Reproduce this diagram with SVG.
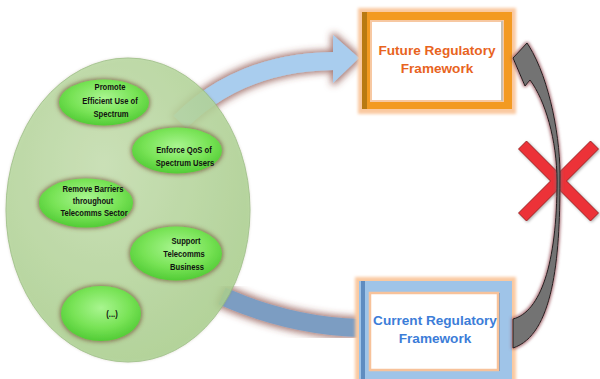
<svg xmlns="http://www.w3.org/2000/svg" width="600" height="379" viewBox="0 0 600 379">
  <defs>
    <style>
      .goal { font-family: "Liberation Sans", Arial, sans-serif; font-weight: bold; font-size: 9.3px; fill: #111; text-anchor: middle; }
      .title { font-family: "Liberation Sans", Arial, sans-serif; font-weight: bold; font-size: 13.6px; text-anchor: middle; }
      .pill { fill: url(#pillFill); filter: url(#brownGlow); }
    </style>
    <radialGradient id="pillFill" cx="50%" cy="40%" r="60%">
      <stop offset="0" stop-color="#A9F590"/>
      <stop offset="0.6" stop-color="#78E356"/>
      <stop offset="1" stop-color="#52CC36"/>
    </radialGradient>
    <radialGradient id="bigFill" cx="40%" cy="35%" r="70%">
      <stop offset="0" stop-color="#C8E4B4"/>
      <stop offset="1" stop-color="#ABD390"/>
    </radialGradient>
    <filter id="brownGlow" x="-30%" y="-30%" width="160%" height="160%">
      <feMorphology in="SourceAlpha" operator="dilate" radius="1.2" result="grow"/>
      <feGaussianBlur in="grow" stdDeviation="2.2" result="blur"/>
      <feFlood flood-color="#6E4A30" flood-opacity="0.7"/>
      <feComposite in2="blur" operator="in" result="glow"/>
      <feMerge><feMergeNode in="glow"/><feMergeNode in="SourceGraphic"/></feMerge>
    </filter>
    <filter id="redGlow" x="-30%" y="-30%" width="160%" height="160%">
      <feMorphology in="SourceAlpha" operator="dilate" radius="2" result="grow"/>
      <feGaussianBlur in="grow" stdDeviation="3.5" result="blur"/>
      <feFlood flood-color="#7E3C34" flood-opacity="0.7"/>
      <feComposite in2="blur" operator="in" result="glow"/>
      <feMerge><feMergeNode in="glow"/><feMergeNode in="SourceGraphic"/></feMerge>
    </filter>
    <filter id="pinkGlow" x="-30%" y="-10%" width="160%" height="120%">
      <feMorphology in="SourceAlpha" operator="dilate" radius="1.2" result="grow"/>
      <feGaussianBlur in="grow" stdDeviation="1.5" result="blur"/>
      <feFlood flood-color="#9C5A62" flood-opacity="0.8"/>
      <feComposite in2="blur" operator="in" result="glow"/>
      <feMerge><feMergeNode in="glow"/><feMergeNode in="SourceGraphic"/></feMerge>
    </filter>
    <filter id="soft" x="-10%" y="-10%" width="120%" height="120%">
      <feGaussianBlur stdDeviation="1.5"/>
    </filter>
    <filter id="xShadow" x="-20%" y="-20%" width="140%" height="140%">
      <feGaussianBlur in="SourceAlpha" stdDeviation="1.5" result="b"/>
      <feOffset in="b" dx="1" dy="1" result="o"/>
      <feFlood flood-color="#000" flood-opacity="0.35"/>
      <feComposite in2="o" operator="in" result="s"/>
      <feMerge><feMergeNode in="s"/><feMergeNode in="SourceGraphic"/></feMerge>
    </filter>
  </defs>

  <rect width="600" height="379" fill="#FFFFFF"/>

  <!-- connectors -->
  <g id="connectors">
    <!-- goals towards the future framework -->
    <g id="toFuture" filter="url(#redGlow)">
      <path d="M180,122 Q240,62 334,61" fill="none" stroke="#A9CDEE" stroke-width="18"/>
      <polygon points="333,35 359,58 333,83" fill="#A9CDEE"/>
    </g>
    <!-- current framework link -->
    <g id="fromCurrent" filter="url(#redGlow)">
      <path d="M222,296 Q290,326 360,328" fill="none" stroke="#7C9DC2" stroke-width="18"/>
    </g>
  </g>

  <!-- goals container -->
  <g id="goals">
    <ellipse cx="128" cy="210" rx="122" ry="152" fill="#8A7A5A" opacity="0.35" filter="url(#soft)"/>
    <ellipse cx="128" cy="210" rx="122" ry="152" fill="url(#bigFill)" opacity="0.82" stroke="#98BE80" stroke-width="1"/>
  </g>

  <g id="goal-promote">
    <ellipse class="pill" cx="104" cy="102.5" rx="45" ry="23"/>
    <text class="goal" transform="translate(110 89.5) scale(0.82 1)">Promote</text>
    <text class="goal" transform="translate(110 103.5) scale(0.82 1)">Efficient Use of</text>
    <text class="goal" transform="translate(111 117) scale(0.82 1)">Spectrum</text>
  </g>
  <g id="goal-enforce">
    <ellipse class="pill" cx="177" cy="150.5" rx="45" ry="23"/>
    <text class="goal" transform="translate(184 153) scale(0.82 1)">Enforce QoS of</text>
    <text class="goal" transform="translate(185 166) scale(0.82 1)">Spectrum Users</text>
  </g>
  <g id="goal-remove">
    <ellipse class="pill" cx="86" cy="203" rx="47" ry="24.5"/>
    <text class="goal" transform="translate(93 191.5) scale(0.82 1)">Remove Barriers</text>
    <text class="goal" transform="translate(93 204) scale(0.82 1)">throughout</text>
    <text class="goal" transform="translate(94 216) scale(0.82 1)">Telecomms Sector</text>
  </g>
  <g id="goal-support">
    <ellipse class="pill" cx="176" cy="253.5" rx="46" ry="27"/>
    <text class="goal" transform="translate(186 243.5) scale(0.82 1)">Support</text>
    <text class="goal" transform="translate(184 256.5) scale(0.82 1)">Telecomms</text>
    <text class="goal" transform="translate(187 270) scale(0.82 1)">Business</text>
  </g>
  <g id="goal-more">
    <ellipse class="pill" cx="101" cy="313.5" rx="40" ry="27.5"/>
    <text class="goal" transform="translate(112 317) scale(0.82 1)">(...)</text>
  </g>

  <!-- future framework -->
  <g id="future">
    <rect x="358" y="8" width="158" height="106" fill="#FAC9A0" filter="url(#soft)"/>
    <rect x="362" y="12" width="150" height="97" fill="#F39A21"/>
    <rect x="362" y="12" width="5" height="97" fill="#B97A12"/>
    <rect x="371" y="21" width="132" height="80" fill="#FFFFFF" stroke="#F7C8A2" stroke-width="2"/>
    <rect x="501" y="21" width="2" height="80" fill="#C8C0B0"/>
    <text class="title" x="437" y="55" fill="#E8641E">Future Regulatory</text>
    <text class="title" x="437" y="73" fill="#E8641E">Framework</text>
  </g>

  <!-- current framework -->
  <g id="current">
    <rect x="355" y="277" width="161" height="106" fill="#FAC9A0" filter="url(#soft)"/>
    <rect x="359" y="281" width="153" height="102" fill="#9FC4E8"/>
    <rect x="361" y="281" width="4" height="102" fill="#5F8CC0"/>
    <rect x="496" y="293" width="4" height="78" fill="#6F97C6"/>
    <rect x="370" y="293" width="128" height="77" fill="#FFFFFF" stroke="#F7C29A" stroke-width="2.5"/>
    <text class="title" x="435" y="325" fill="#3C7DD8">Current Regulatory</text>
    <text class="title" x="435" y="343" fill="#3C7DD8">Framework</text>
  </g>

  <!-- rejected direct path -->
  <g id="cross" filter="url(#xShadow)">
    <polygon transform="translate(558.5,181)" points="0,-8 32,-40 40,-32 8,0 40,32 32,40 0,8 -32,40 -40,32 -8,0 -40,-32 -32,-40" fill="#EC3138" stroke="#8A1818" stroke-width="0.8"/>
  </g>
  <g id="directArrow" filter="url(#pinkGlow)">
    <path d="M513,319 C540,312 557,265 557,181 C557,140 545,100 530,80 L525,86 L513,58 L527,43 L529,46 C550,80 561,140 560,181 C560,260 553,335 513,348 Z" fill="#737373" stroke="#1E1E1E" stroke-width="1"/>
  </g>
</svg>
